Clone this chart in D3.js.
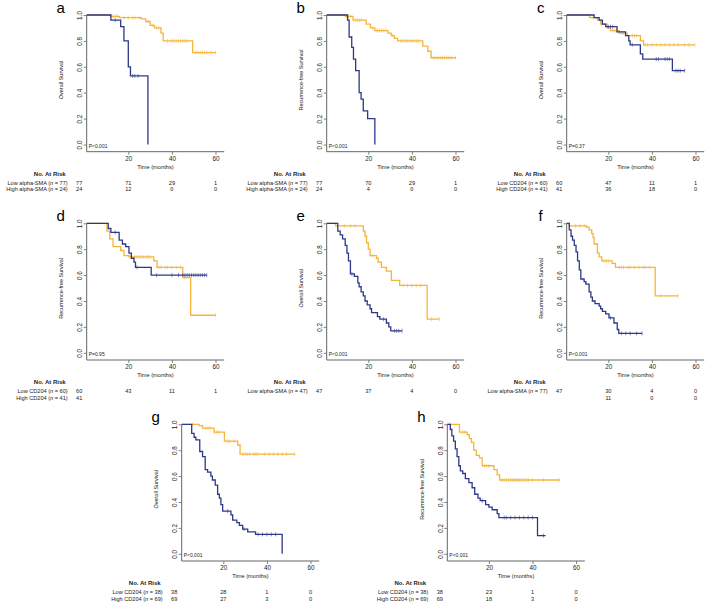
<!DOCTYPE html>
<html>
<head>
<meta charset="utf-8">
<script src="https://cdn.jsdelivr.net/npm/d3@7"></script>
<style>
  body { margin: 0; background: #fff; }
  svg { display: block; font-family: "Liberation Sans", Arial, sans-serif; }
</style>
</head>
<body>
<div id="figure"></div>
<script>
// ---- data: step points [months, survival] and censor times ----
var aLow = [[0,1],[12,0.99],[16,0.98],[26,0.97],[28,0.95],[30,0.92],[32,0.90],[35,0.86],[36,0.80],[49.5,0.71],[60,0.71]];
var aLowCens = [13,14,15,18,20,22,23,25,29,31,33,34,38,40,41,42,43,44,45,46,47,51,52,53,54,55,56,58,60];
var aHigh = [[0,1],[12,0.96],[16.5,0.91],[18,0.80],[20,0.60],[21,0.53],[29,0]];
var aHighCens = [14,22,23,24.5];

var bLow = [[0,1],[9.5,0.99],[13,0.96],[19,0.93],[21,0.90],[23,0.88],[29,0.86],[30.5,0.84],[32,0.82],[33.5,0.80],[45,0.76],[47.3,0.72],[48.8,0.67],[60,0.67]];
var bLowCens = [10,11,12,14,15,16,17,22,24,25,26,27,28,31,35,36,37,38,39,40,41,42,43,50,51,52,53,54,55,56,57,58,60];
var bHigh = [[0,1],[10.5,0.96],[11.2,0.83],[12.4,0.75],[13.2,0.66],[14.2,0.57],[15.8,0.40],[16.7,0.35],[17.7,0.26],[19.7,0.20],[23,0]];
var bHighCens = [];

var cLow = [[0,1],[11.5,0.98],[15,0.96],[16.5,0.93],[19.5,0.90],[21,0.88],[25,0.86],[28.6,0.84],[34.7,0.80],[36.2,0.77],[59.7,0.77]];
var cLowCens = [13,17,22,23,24,26,27,31,32,33,37,38,40,42,44,46,48,50,52,55,57,59.7];
var cHigh = [[0,1],[13.5,0.98],[15.8,0.96],[17.3,0.93],[18.8,0.91],[24,0.87],[27.9,0.84],[29.4,0.80],[30,0.77],[34.7,0.70],[35.8,0.66],[49.4,0.57],[55,0.57]];
var cHighCens = [20,21,22,31,42,43,46,47,48,51,52,53,55];

var dLow = [[0,1],[10.2,0.94],[11.5,0.88],[13,0.82],[16.5,0.79],[18,0.75],[20.3,0.74],[31.7,0.71],[33.2,0.66],[45,0.58],[48.6,0.29],[60,0.29]];
var dLowCens = [21,23,24,25,26,27,28,29,30,34,35,37,38,40,42,44,46,60];
var dHigh = [[0,1],[10.8,0.96],[12,0.93],[15.8,0.87],[17.3,0.84],[18.8,0.82],[20.3,0.77],[21.4,0.73],[22.6,0.70],[23.3,0.66],[30.5,0.60],[56,0.60]];
var dHighCens = [14,24,33,40,43,45,46,47,48,49,50,51,52,53,54,55,56];

var eLow = [[0,1],[5,0.98],[17.7,0.94],[18.5,0.90],[19.2,0.85],[20,0.80],[20.8,0.75],[23.8,0.73],[24.5,0.70],[26,0.66],[28.3,0.63],[30.6,0.56],[34.4,0.52],[47,0.26],[52.6,0.26]];
var eLowCens = [9,12,14,22,36,38,40,42,44,49,52.6];
var eHigh = [[0,1],[6,0.94],[7.1,0.91],[8.2,0.88],[9.4,0.83],[10.2,0.77],[10.9,0.71],[11.8,0.61],[13.6,0.59],[15.2,0.54],[15.8,0.51],[16.7,0.47],[17.7,0.44],[18.5,0.40],[19.5,0.37],[20.8,0.34],[21.5,0.31],[24.2,0.28],[25.3,0.26],[28.3,0.23],[29.4,0.20],[30.3,0.17],[35.5,0.17]];
var eHighCens = [12.5,27,32,33,34,35.5];

var fLow = [[0,1],[2,0.98],[10,0.97],[11.2,0.95],[12.4,0.92],[13,0.89],[13.5,0.84],[15,0.77],[15.8,0.74],[17,0.71],[21.8,0.69],[23.3,0.66],[41.5,0.44],[52,0.44]];
var fLowCens = [5,7,9,18,19,20,25,26,27,29,30,32,34,36,37,39,44,52];
var fHigh = [[0,1],[2.1,0.95],[2.9,0.90],[3.6,0.87],[4.4,0.83],[5.2,0.78],[5.9,0.71],[6.7,0.64],[7.4,0.57],[8.9,0.55],[9.7,0.53],[11.2,0.47],[12,0.43],[12.7,0.40],[13.9,0.38],[15.8,0.36],[16.5,0.34],[17.3,0.32],[18.8,0.30],[20.3,0.27],[22.6,0.23],[24.1,0.18],[24.8,0.15],[35.5,0.15]];
var fHighCens = [21,26,28,30,33,35.5];

var gLow = [[0,1],[8.9,0.99],[10.5,0.97],[15.8,0.94],[20.5,0.87],[26.6,0.84],[27.7,0.77],[52.8,0.77]];
var gLowCens = [6,12,13,14,16,17,18,22,23,25,29,30,31,32,34,35,36,39,41,43,45,47,49,52.8];
var gHigh = [[0,1],[5.5,0.93],[6.6,0.90],[7.4,0.88],[9.2,0.79],[10.5,0.75],[11.7,0.65],[12.8,0.63],[14.3,0.60],[15,0.57],[16.3,0.53],[17.4,0.46],[18.2,0.43],[18.9,0.38],[19.7,0.33],[23.5,0.30],[24.3,0.26],[26.2,0.24],[27.4,0.22],[28.9,0.19],[31.2,0.17],[34.8,0.15],[47,0]];
var gHighCens = [22,29.5,36,38,40,42,44];

var hLow = [[0,1],[6.5,0.94],[10,0.92],[11,0.89],[12,0.86],[13,0.80],[14.2,0.76],[15.7,0.74],[16.9,0.68],[22.3,0.65],[23.8,0.61],[24.9,0.57],[52.3,0.57]];
var hLowCens = [2,8,9,18,19,20,26,27,28,29,30,31,32,33,34,35,36,37,38,40,45,52.3];
var hHigh = [[0,1],[2.3,0.96],[3,0.91],[3.8,0.87],[4.6,0.81],[5.4,0.75],[6.2,0.68],[6.9,0.64],[8,0.62],[9.2,0.58],[10.8,0.55],[12.3,0.51],[13.5,0.46],[15,0.43],[16,0.41],[18.5,0.38],[20,0.36],[21.5,0.34],[23.8,0.31],[24.6,0.28],[42.3,0.14],[46,0.14]];
var hHighCens = [17,27,28,30,32,34,36,38,40,45];

// risk tables: times, labels, counts (null = blank cell)
var riskTimes = [0, 20, 40, 60];
var xTicks = [20, 40, 60];
var yTicks = [0, 0.2, 0.4, 0.6, 0.8, 1.0];

var aRiskLabels = [["Low alpha-SMA", 77], ["High alpha-SMA", 24]];
var aRisk = [[77, 71, 29, 1], [24, 12, 0, 0]];
var bRiskLabels = [["Low alpha-SMA", 77], ["High alpha-SMA", 24]];
var bRisk = [[77, 70, 29, 1], [24, 4, 0, 0]];
var cRiskLabels = [["Low CD204", 60], ["High CD204", 41]];
var cRisk = [[60, 47, 11, 1], [41, 36, 18, 0]];
var dRiskLabels = [["Low CD204", 60], ["High CD204", 41]];
var dRisk = [[60, 43, 11, 1], [41, null, null, null]];
var eRiskLabels = [["Low alpha-SMA", 47]];
var eRisk = [[47, 37, 4, 0]];
var fRiskLabels = [["Low alpha-SMA", 77], null];
var fRisk = [[47, 30, 4, 0], [null, 11, 0, 0]];
var gRiskLabels = [["Low CD204", 38], ["High CD204", 69]];
var gRisk = [[38, 28, 1, 0], [69, 27, 3, 0]];
var hRiskLabels = [["Low CD204", 38], ["High CD204", 69]];
var hRisk = [[38, 23, 1, 0], [69, 18, 3, 0]];

var pValues = ["P<0.001", "P<0.001", "P=0.37", "P=0.95", "P<0.001", "P<0.001", "P<0.001", "P<0.001"];
var OS = "Overall Survival", RFS = "Recurrence-free Survival";

var lowColor = "#f5b53a";
var highColor = "#2d3889";
var textColor = "#222";
var axisColor = "#666";

// ---- panel layout (ax = y-axis x position, oy = y of the 1.0 tick) ----
var panels = [
  {id: "a", ax: 86.7,  oy: 15,    title: OS,  p: pValues[0], low: aLow, lowC: aLowCens, high: aHigh, highC: aHighCens, labels: aRiskLabels, risk: aRisk},
  {id: "b", ax: 326.7, oy: 15,    title: RFS, p: pValues[1], low: bLow, lowC: bLowCens, high: bHigh, highC: bHighCens, labels: bRiskLabels, risk: bRisk},
  {id: "c", ax: 566.7, oy: 15,    title: OS,  p: pValues[2], low: cLow, lowC: cLowCens, high: cHigh, highC: cHighCens, labels: cRiskLabels, risk: cRisk},
  {id: "d", ax: 86.7,  oy: 223.3, title: RFS, p: pValues[3], low: dLow, lowC: dLowCens, high: dHigh, highC: dHighCens, labels: dRiskLabels, risk: dRisk},
  {id: "e", ax: 326.7, oy: 223.3, title: OS,  p: pValues[4], low: eLow, lowC: eLowCens, high: eHigh, highC: eHighCens, labels: eRiskLabels, risk: eRisk},
  {id: "f", ax: 566.7, oy: 223.3, title: RFS, p: pValues[5], low: fLow, lowC: fLowCens, high: fHigh, highC: fHighCens, labels: fRiskLabels, risk: fRisk},
  {id: "g", ax: 181.7, oy: 424.3, title: OS,  p: pValues[6], low: gLow, lowC: gLowCens, high: gHigh, highC: gHighCens, labels: gRiskLabels, risk: gRisk},
  {id: "h", ax: 447.3, oy: 424.3, title: RFS, p: pValues[7], low: hLow, lowC: hLowCens, high: hHigh, highC: hHighCens, labels: hRiskLabels, risk: hRisk}
];

var svg = d3.select("#figure").append("svg")
    .attr("width", 709)
    .attr("height", 603);

function survAt(steps, t){
    var s = steps[0][1];
    steps.forEach(function(d){ if (d[0] <= t) s = d[1]; });
    return s;
}

function drawPanel(p){
    var g = svg.append("g").attr("class", "panel-" + p.id);
    var x = d3.scaleLinear().domain([0, 60]).range([p.ax - 2, p.ax - 2 + 130.8]);
    var y = d3.scaleLinear().domain([0, 1]).range([p.oy + 129.5, p.oy]);
    var baseY = p.oy + 136.7;
    var xEnd = x(64);

    // axes
    var yAxis = d3.axisLeft(y).tickValues(yTicks).tickSize(3).tickFormat(d3.format(".1f"));
    var yg = g.append("g").attr("transform", "translate(" + p.ax + ",0)").call(yAxis);
    yg.select(".domain").remove();
    yg.selectAll(".tick line").attr("stroke", axisColor).attr("stroke-width", 0.8);
    yg.selectAll(".tick text")
        .attr("transform", "rotate(-90)")
        .attr("x", 0).attr("y", -4.5).attr("dy", null)
        .attr("text-anchor", "middle")
        .attr("fill", textColor)
        .style("font-size", "6.3px");

    var xAxis = d3.axisBottom(x).tickValues(xTicks).tickSize(3);
    var xg = g.append("g").attr("transform", "translate(0," + baseY + ")").call(xAxis);
    xg.select(".domain").remove();
    xg.selectAll(".tick line").attr("stroke", axisColor).attr("stroke-width", 0.8);
    xg.selectAll(".tick text").attr("y", 5).attr("dy", "0.71em")
        .attr("fill", textColor).style("font-size", "6.3px");

    g.append("line").attr("x1", p.ax).attr("x2", p.ax).attr("y1", y(1)).attr("y2", baseY)
        .attr("stroke", axisColor).attr("stroke-width", 1);
    g.append("line").attr("x1", p.ax).attr("x2", xEnd).attr("y1", baseY).attr("y2", baseY)
        .attr("stroke", axisColor).attr("stroke-width", 1);

    // titles
    g.append("text")
        .attr("transform", "translate(" + (p.ax - 23.5) + "," + (p.oy + 65) + ") rotate(-90)")
        .attr("text-anchor", "middle").attr("fill", textColor)
        .style("font-size", "5.5px").text(p.title);
    g.append("text")
        .attr("x", (p.ax + xEnd) / 2).attr("y", p.oy + 154)
        .attr("text-anchor", "middle").attr("fill", textColor)
        .style("font-size", "5.7px").text("Time (months)");
    g.append("text")
        .attr("x", p.ax - 26).attr("y", p.oy - 2)
        .attr("text-anchor", "middle").attr("fill", "#000")
        .style("font-size", "15px").text(p.id);
    g.append("text")
        .attr("x", p.ax + 2).attr("y", p.oy + 133)
        .attr("fill", textColor).style("font-size", "5px").text(p.p);

    // curves
    var line = d3.line()
        .x(function(d){ return Math.max(x(d[0]), p.ax); })
        .y(function(d){ return y(d[1]); })
        .curve(d3.curveStepAfter);

    [[p.low, p.lowC, lowColor], [p.high, p.highC, highColor]].forEach(function(s){
        g.append("path")
            .datum(s[0])
            .attr("d", line)
            .attr("fill", "none")
            .attr("stroke", s[2])
            .attr("stroke-width", 1.3);
        g.selectAll(null)
            .data(s[1])
            .enter()
            .append("line")
            .attr("x1", function(t){ return x(t); })
            .attr("x2", function(t){ return x(t); })
            .attr("y1", function(t){ return y(survAt(s[0], t)) - 2; })
            .attr("y2", function(t){ return y(survAt(s[0], t)) + 2; })
            .attr("stroke", s[2])
            .attr("stroke-opacity", 0.7)
            .attr("stroke-width", 0.8);
    });

    // number at risk table
    g.append("text")
        .attr("x", p.ax - 37).attr("y", p.oy + 161)
        .attr("text-anchor", "middle").attr("fill", textColor)
        .style("font-size", "6px").style("font-weight", "bold")
        .text("No. At Risk");
    var rowY = [p.oy + 169.7, p.oy + 176.3];
    p.risk.forEach(function(row, i){
        var lab = p.labels[i];
        if (lab) {
            var t = g.append("text")
                .attr("x", p.ax - 19).attr("y", rowY[i])
                .attr("text-anchor", "end").attr("fill", textColor)
                .style("font-size", "5.6px");
            t.append("tspan").text(lab[0] + " (");
            t.append("tspan").style("font-style", "italic").text("n");
            t.append("tspan").text(" = " + lab[1] + ")");
        }
        row.forEach(function(v, j){
            if (v === null) return;
            g.append("text")
                .attr("x", riskTimes[j] === 0 ? p.ax - 7.5 : x(riskTimes[j]))
                .attr("y", rowY[i])
                .attr("text-anchor", "middle").attr("fill", textColor)
                .style("font-size", "5.6px")
                .text(v);
        });
    });
}

panels.forEach(drawPanel);
</script>
</body>
</html>
